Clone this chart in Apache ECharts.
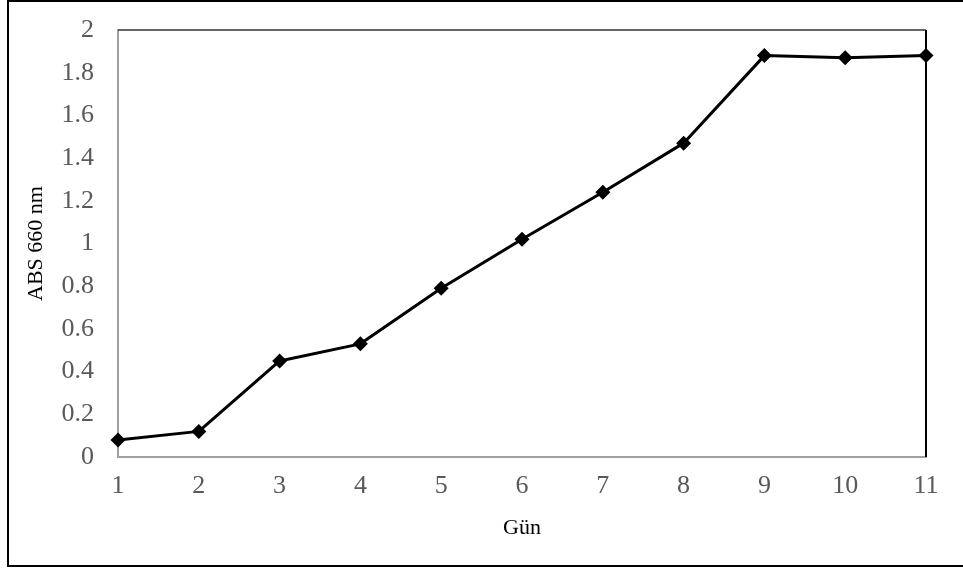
<!DOCTYPE html>
<html>
<head>
<meta charset="utf-8">
<script src="https://cdn.jsdelivr.net/npm/echarts@6/dist/echarts.min.js"></script>
<style>html,body{margin:0;padding:0;background:#fff}#c{width:963px;height:569px}</style>
</head>
<body>
<div id="c"></div>
<script>
var days = ['1','2','3','4','5','6','7','8','9','10','11'];
var absValues = [0.08, 0.12, 0.45, 0.53, 0.79, 1.02, 1.24, 1.47, 1.88, 1.87, 1.88];
var yTicks = {min: 0, max: 2, interval: 0.2};

var chart = echarts.init(document.getElementById('c'), null, {renderer: 'canvas'});
var font = '"Liberation Serif", "Times New Roman", serif';
chart.setOption({
  animation: false,
  backgroundColor: '#fff',
  grid: {left: 118, right: 37, top: 30, bottom: 112, show: false},
  xAxis: {
    type: 'category', data: days, boundaryGap: false,
    name: 'Gün', nameLocation: 'middle', nameGap: 60,
    nameTextStyle: {fontFamily: font, fontSize: 22, color: '#000'},
    axisLine: {lineStyle: {color: '#a0a0a0', width: 2}},
    axisTick: {show: false},
    axisLabel: {fontFamily: font, fontSize: 26, color: '#595959', margin: 16},
    splitLine: {show: false}
  },
  yAxis: {
    type: 'value', min: yTicks.min, max: yTicks.max, interval: yTicks.interval,
    name: 'ABS 660 nm', nameLocation: 'middle', nameGap: 71,
    nameTextStyle: {fontFamily: font, fontSize: 22, color: '#000'},
    axisLine: {show: true, lineStyle: {color: '#a0a0a0', width: 2}},
    axisTick: {show: false},
    axisLabel: {fontFamily: font, fontSize: 26, color: '#595959', margin: 24,
      formatter: function (v) { return String(Math.round(v * 10) / 10); }},
    splitLine: {show: false}
  },
  series: [{
    type: 'line', data: absValues,
    symbol: 'diamond', symbolSize: 15,
    itemStyle: {color: '#000'},
    lineStyle: {color: '#000', width: 3},
    z: 5
  }]
});
var p0 = chart.convertToPixel({gridIndex: 0}, [0, 2]);
var p1 = chart.convertToPixel({gridIndex: 0}, [10, 0]);
chart.setOption({graphic: [
  {type: 'line', shape: {x1: 8, y1: 1, x2: 963, y2: 1}, style: {stroke: '#000', lineWidth: 2}},
  {type: 'line', shape: {x1: 8, y1: 0, x2: 8, y2: 567}, style: {stroke: '#000', lineWidth: 2}},
  {type: 'line', shape: {x1: 8, y1: 566, x2: 963, y2: 566}, style: {stroke: '#000', lineWidth: 2}},
  {type: 'line', shape: {x1: p0[0], y1: p0[1], x2: p1[0], y2: p0[1]}, style: {stroke: '#333', lineWidth: 1.5}, z: 1},
  {type: 'line', shape: {x1: p1[0], y1: p0[1], x2: p1[0], y2: p1[1]}, style: {stroke: '#000', lineWidth: 2}, z: 1}
]});
</script>
</body>
</html>
